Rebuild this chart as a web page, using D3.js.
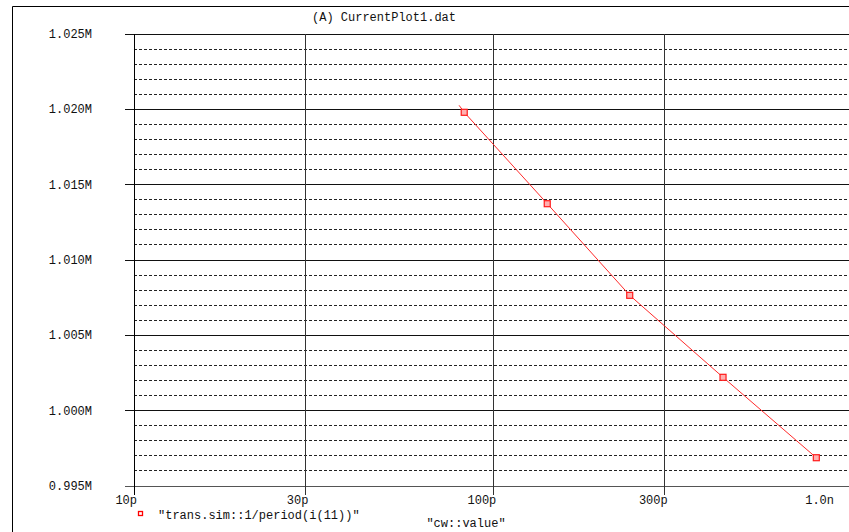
<!DOCTYPE html>
<html>
<head>
<meta charset="utf-8">
<script src="https://cdn.jsdelivr.net/npm/d3@7"></script>
<style>
  html, body { margin: 0; padding: 0; background: #fff; }
  svg { display: block; }
  text { font-family: "Liberation Mono", "DejaVu Sans Mono", monospace; font-size: 12px; fill: #111; }
</style>
</head>
<body>
<svg id="chart" width="849" height="532"></svg>
<script>
// Sweep of cw::value (seconds) against 1/period(i(11)) (Hz)
const cwValue   = [80.3e-12, 83.0e-12, 141.3e-12, 239.7e-12, 435.9e-12, 792.5e-12];
const frequency = [1.020267e6, 1.019803e6, 1.013736e6, 1.007656e6, 1.002214e6, 0.996877e6];
const markerIndex = [1, 2, 3, 4, 5];

const xTickValues = [10e-12, 30e-12, 100e-12, 300e-12, 1e-9];
const xTickLabels = ["10p", "30p", "100p", "300p", "1.0n"];
const yTickValues = [0.995e6, 1.000e6, 1.005e6, 1.010e6, 1.015e6, 1.020e6, 1.025e6];
const yTickLabels = ["0.995M", "1.000M", "1.005M", "1.010M", "1.015M", "1.020M", "1.025M"];
const yMinorValues = d3.range(0, 31).map(i => 0.995e6 + i * 1000).filter((v, i) => i % 5 !== 0);

const titleText = "(A) CurrentPlot1.dat";
const seriesName = "\"trans.sim::1/period(i(11))\"";
const xName = "\"cw::value\"";

const W = 849, H = 532;
const plotLeft = 134, plotTop = 34, plotBottom = 486, plotRightEnd = 852.6;

const svg = d3.select("#chart");

const x = d3.scaleLog().domain([10e-12, 1e-9]).range([plotLeft, plotRightEnd]);
const y = d3.scaleLinear().domain([0.995e6, 1.025e6]).range([plotBottom, plotTop]);

// outer frame
svg.append("line").attr("x1", 12.5).attr("x2", W).attr("y1", 6.5).attr("y2", 6.5)
  .attr("stroke", "#000").attr("stroke-width", 1);
svg.append("line").attr("x1", 12.5).attr("x2", 12.5).attr("y1", 6.5).attr("y2", H)
  .attr("stroke", "#000").attr("stroke-width", 1);

// title
svg.append("text").attr("x", 384).attr("y", 21).attr("text-anchor", "middle").text(titleText);

const grid = svg.append("g").attr("shape-rendering", "crispEdges");

// minor horizontal dashed lines
grid.selectAll("line.minor").data(yMinorValues).enter().append("line")
  .attr("class", "minor")
  .attr("x1", plotLeft).attr("x2", W)
  .attr("y1", d => y(d)).attr("y2", d => y(d))
  .attr("stroke", "#222").attr("stroke-width", 1)
  .attr("stroke-dasharray", "3,2");

// major horizontal lines with left ticks
grid.selectAll("line.major").data(yTickValues).enter().append("line")
  .attr("class", "major")
  .attr("x1", plotLeft - 9).attr("x2", W)
  .attr("y1", d => y(d)).attr("y2", d => y(d))
  .attr("stroke", d => d === 0.995e6 ? "#555" : "#111").attr("stroke-width", 1);

// vertical grid lines with bottom ticks
grid.selectAll("line.vert").data(xTickValues).enter().append("line")
  .attr("class", "vert")
  .attr("x1", d => x(d)).attr("x2", d => x(d))
  .attr("y1", plotTop).attr("y2", plotBottom + 9)
  .attr("stroke", (d, i) => i === 0 ? "#000" : "#333").attr("stroke-width", 1);

// y labels
svg.selectAll("text.ylab").data(yTickValues).enter().append("text")
  .attr("class", "ylab")
  .attr("x", 92).attr("y", d => y(d) + 4)
  .attr("text-anchor", "end")
  .text((d, i) => yTickLabels[i]);

// x labels (last one pulled inside the visible frame)
svg.selectAll("text.xlab").data(xTickValues).enter().append("text")
  .attr("class", "xlab")
  .attr("x", (d, i) => i === xTickValues.length - 1 ? Math.min(x(d) + 3, W - 15) : x(d) + 3)
  .attr("y", plotBottom + 18)
  .attr("text-anchor", "end")
  .text((d, i) => xTickLabels[i]);

// series line
const pts = cwValue.map((v, i) => [x(v), y(frequency[i])]);
svg.append("path")
  .attr("d", d3.line()(pts))
  .attr("fill", "none")
  .attr("stroke", "#ff2a2a")
  .attr("stroke-width", 1);

// markers
svg.selectAll("rect.mk").data(markerIndex).enter().append("rect")
  .attr("class", "mk")
  .attr("x", i => x(cwValue[i]) - 3)
  .attr("y", i => y(frequency[i]) - 3)
  .attr("width", 6).attr("height", 6)
  .attr("fill", "#ffb0b0")
  .attr("stroke", "#ff1a1a").attr("stroke-width", 1.2);

// legend
svg.append("rect").attr("x", 138.5).attr("y", 511.5).attr("width", 4).attr("height", 4)
  .attr("fill", "#fff").attr("stroke", "#ff0000").attr("stroke-width", 1.3);
svg.append("text").attr("x", 158).attr("y", 519).text(seriesName);

// x axis name along the bottom edge
svg.append("text").attr("x", 466).attr("y", 527).attr("text-anchor", "middle").text(xName);
</script>
</body>
</html>
